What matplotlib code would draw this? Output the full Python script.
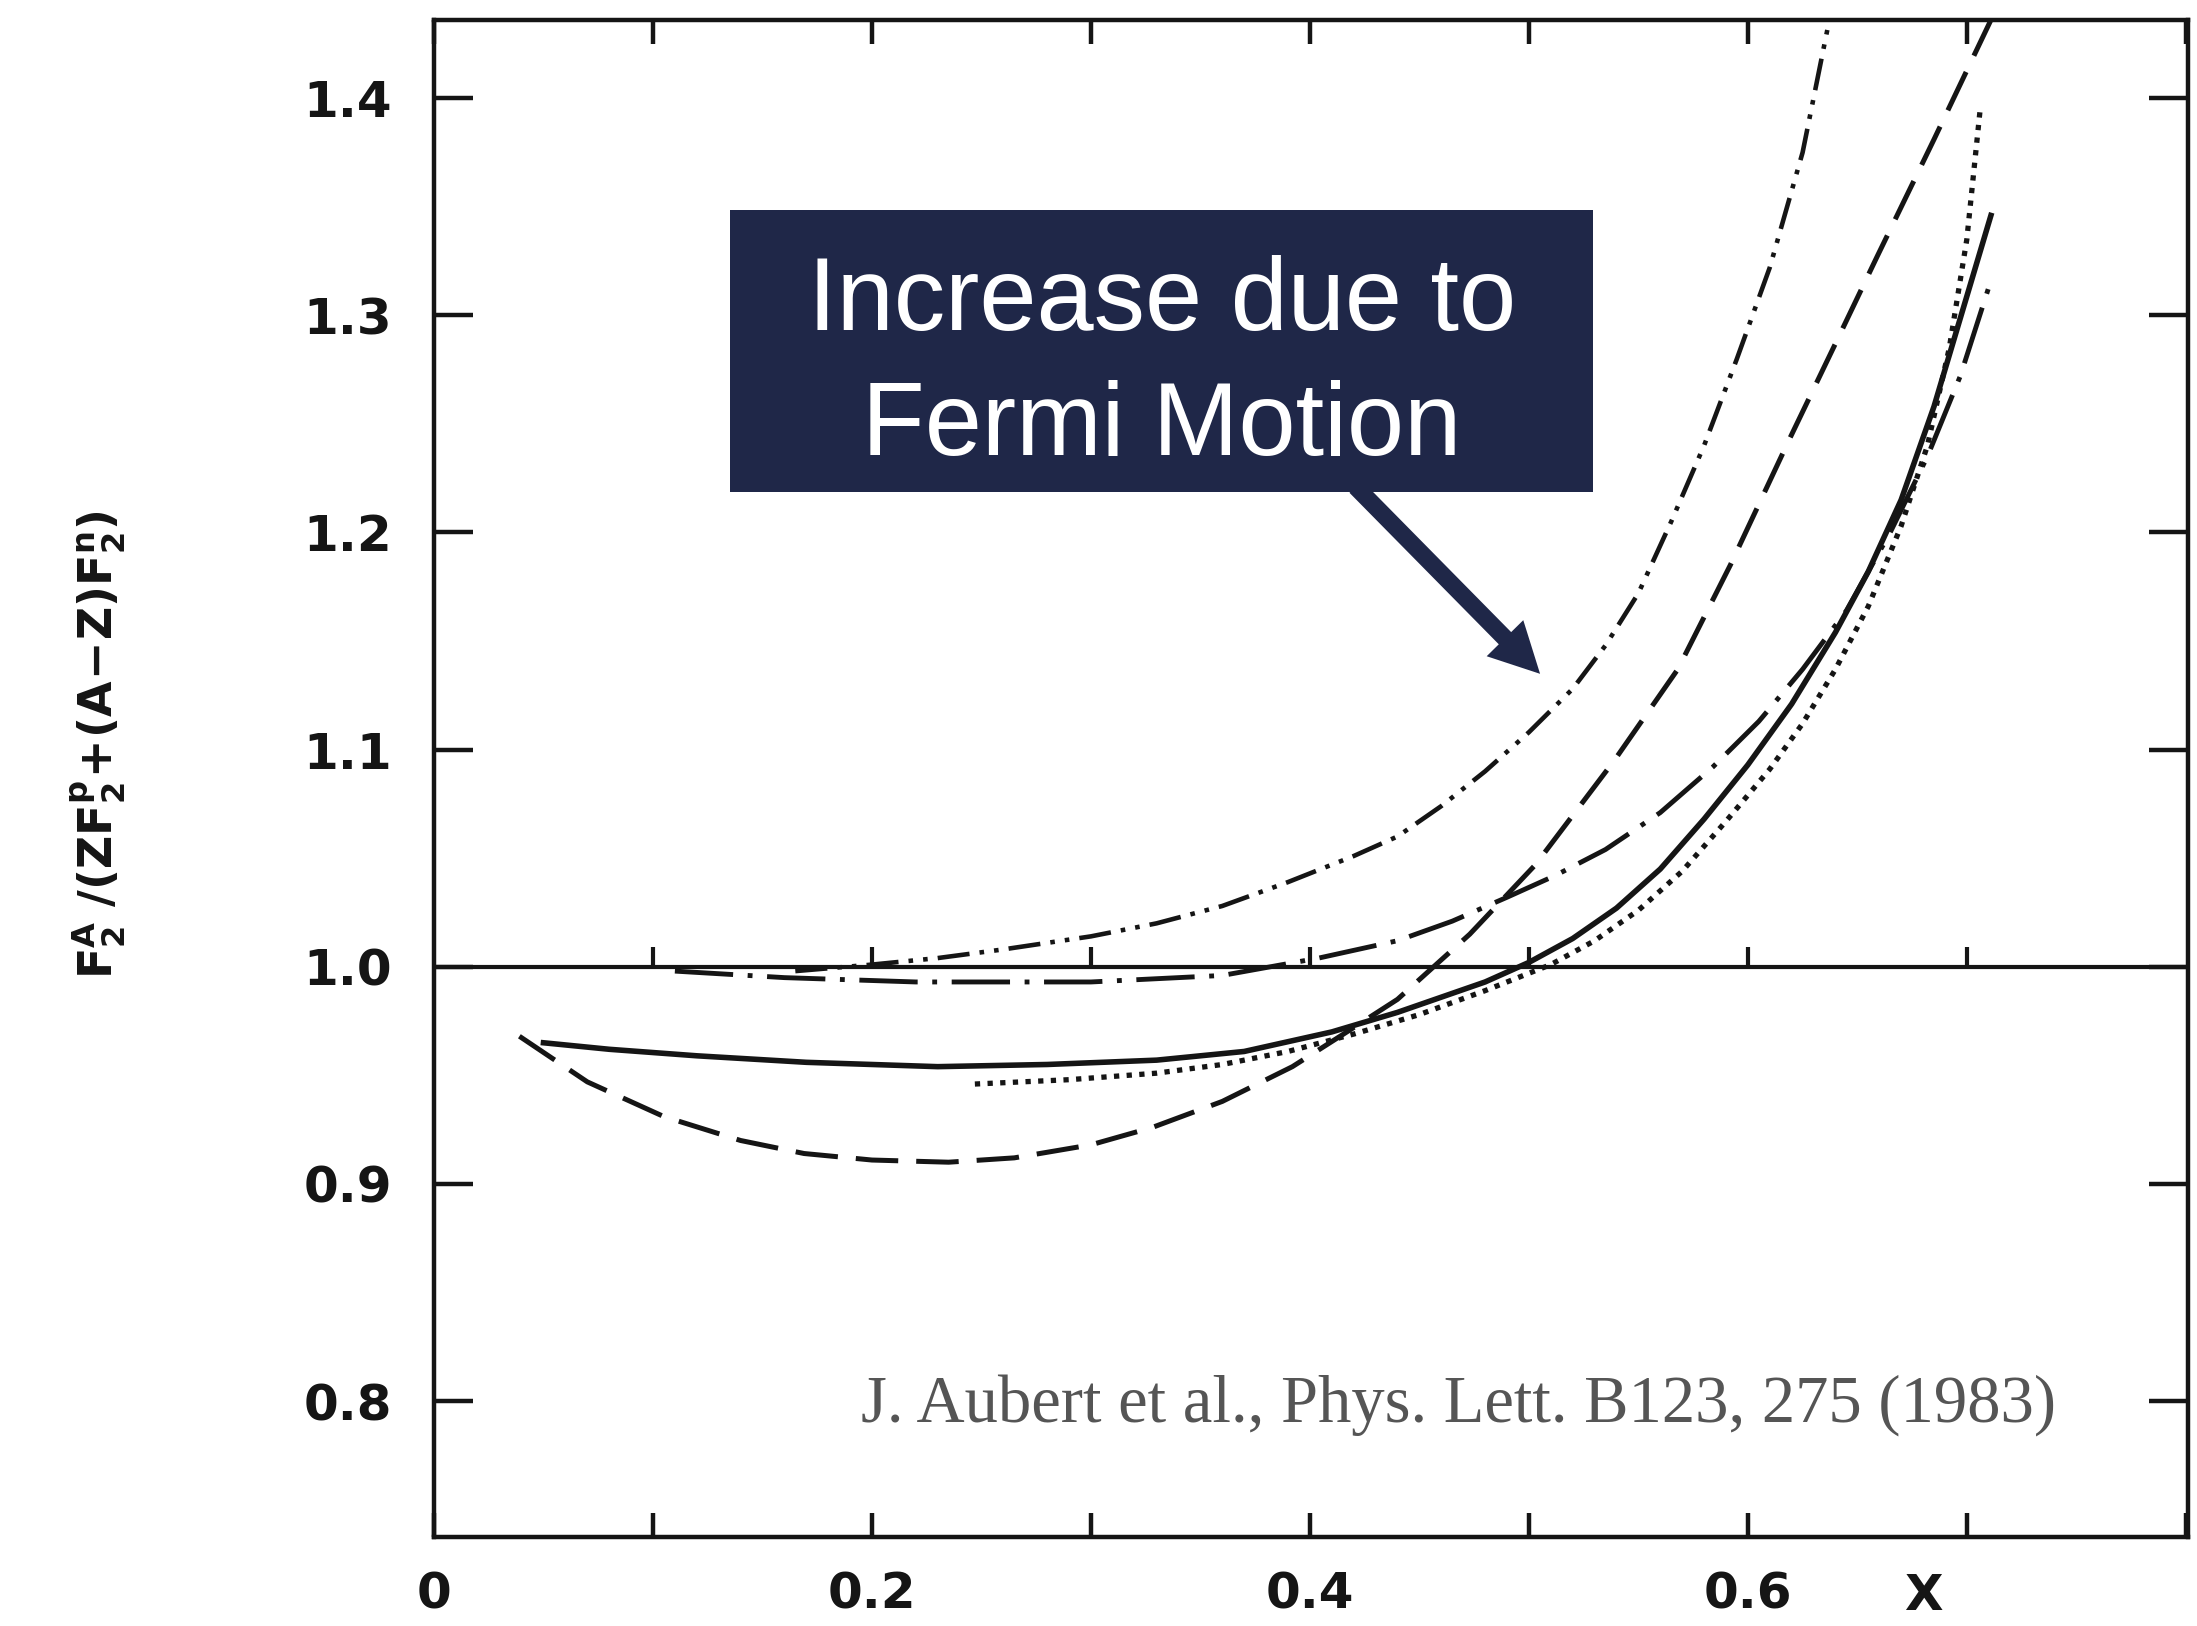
import matplotlib
matplotlib.use("Agg")
import matplotlib.pyplot as plt
from matplotlib.patches import Rectangle, FancyArrowPatch

# ---------------- data ----------------
x_fermi = [0.165, 0.20, 0.23, 0.26, 0.30, 0.33, 0.36, 0.39, 0.42, 0.44, 0.46, 0.48, 0.50,
           0.52, 0.535, 0.55, 0.565, 0.58, 0.595, 0.61, 0.625, 0.638]
y_fermi = [0.998, 1.001, 1.004, 1.008, 1.014, 1.020, 1.028, 1.039, 1.051, 1.060, 1.074,
           1.090, 1.108, 1.128, 1.148, 1.172, 1.205, 1.240, 1.280, 1.322, 1.375, 1.440]

x_dash = [0.039, 0.07, 0.105, 0.14, 0.169, 0.20, 0.235, 0.265, 0.30, 0.328, 0.36, 0.392,
          0.42, 0.44, 0.473, 0.503, 0.539, 0.568, 0.592, 0.619, 0.64, 0.659, 0.685, 0.711]
y_dash = [0.968, 0.947, 0.931, 0.920, 0.914, 0.911, 0.910, 0.912, 0.918, 0.926, 0.938, 0.954,
          0.972, 0.985, 1.015, 1.047, 1.095, 1.137, 1.185, 1.243, 1.287, 1.327, 1.381, 1.436]

x_solid = [0.05, 0.08, 0.12, 0.17, 0.23, 0.28, 0.33, 0.37, 0.41, 0.44, 0.46, 0.48, 0.50,
           0.52, 0.54, 0.56, 0.58, 0.60, 0.62, 0.64, 0.655, 0.67, 0.685, 0.698, 0.711]
y_solid = [0.965, 0.962, 0.959, 0.956, 0.954, 0.955, 0.957, 0.961, 0.970, 0.979, 0.986,
           0.993, 1.002, 1.013, 1.027, 1.045, 1.068, 1.093, 1.121, 1.154, 1.182, 1.215,
           1.258, 1.302, 1.346]

x_dot = [0.247, 0.29, 0.33, 0.36, 0.39, 0.42, 0.45, 0.48, 0.51, 0.53, 0.55, 0.57, 0.59,
         0.61, 0.625, 0.64, 0.655, 0.67, 0.682, 0.692, 0.700, 0.706]
y_dot = [0.946, 0.948, 0.951, 0.955, 0.961, 0.969, 0.978, 0.989, 1.001, 1.012, 1.026,
         1.044, 1.067, 1.091, 1.112, 1.137, 1.166, 1.203, 1.240, 1.285, 1.335, 1.394]

x_dashdot = [0.11, 0.16, 0.22, 0.30, 0.36, 0.404, 0.44, 0.465, 0.49, 0.512, 0.535, 0.56,
             0.584, 0.605, 0.625, 0.645, 0.665, 0.682, 0.697, 0.711]
y_dashdot = [0.998, 0.995, 0.993, 0.993, 0.996, 1.004, 1.012, 1.021, 1.032, 1.042, 1.054,
             1.071, 1.092, 1.113, 1.137, 1.164, 1.200, 1.235, 1.272, 1.316]

unity = 1.0
unity_ticks = [0.1, 0.2, 0.3, 0.4, 0.5, 0.6, 0.7]

x_ticks = [0.0, 0.1, 0.2, 0.3, 0.4, 0.5, 0.6, 0.7, 0.8]
x_ticklabels = ["0", "", "0.2", "", "0.4", "", "0.6", "", ""]
y_ticks = [0.8, 0.9, 1.0, 1.1, 1.2, 1.3, 1.4]
y_ticklabels = ["0.8", "0.9", "1.0", "1.1", "1.2", "1.3", "1.4"]
x_axis_name = "X"
x_axis_name_pos = 0.680

ylabel = r"$\mathbf{F_2^A\ /(ZF_2^p\!+\!(A\!-\!Z)F_2^n)}$"
box_lines = ["Increase due to", "Fermi Motion"]
citation = "J. Aubert et al., Phys. Lett. B123, 275 (1983)"

# ---------------- figure ----------------
W, H = 2197, 1626
fig = plt.figure(figsize=(W / 100, H / 100), dpi=100)
ax = fig.add_axes([434 / W, 1 - 1537 / H, 1754 / W, 1517 / H])
ax.set_xlim(0.0, 0.801)
ax.set_ylim(0.7374, 1.436)

ink = "#151515"
ax.axhline(unity, color=ink, lw=3.0, zorder=2)
ax.vlines(unity_ticks, unity, unity + 0.009, color=ink, lw=3.0, zorder=2)

ax.plot(x_fermi, y_fermi, color=ink, lw=3.3, ls=(0, (7, 2.2, 1, 2.2, 1, 2.2)))
ax.plot(x_dash, y_dash, color=ink, lw=3.6, ls=(0, (8.5, 3.6)))
ax.plot(x_solid, y_solid, color=ink, lw=4.0, ls="-")
ax.plot(x_dot, y_dot, color=ink, lw=3.8, ls=(0, (1, 1.4)))
ax.plot(x_dashdot, y_dashdot, color=ink, lw=3.5, ls=(0, (12, 3, 1, 3)))

for s in ax.spines.values():
    s.set_linewidth(3.2)
    s.set_color(ink)

ax.set_xticks(x_ticks)
ax.set_xticklabels(x_ticklabels)
ax.set_yticks(y_ticks)
ax.set_yticklabels(y_ticklabels)
ax.tick_params(axis="x", direction="in", length=17, width=3.2, top=True, bottom=True,
               pad=24, labelsize=36, colors=ink)
ax.tick_params(axis="y", direction="in", length=28, width=3.2, left=True, right=True,
               pad=30, labelsize=36, colors=ink)
for lab in ax.get_xticklabels() + ax.get_yticklabels():
    lab.set_fontweight("bold")

ax.annotate(x_axis_name, xy=(x_axis_name_pos, 0), xycoords=("data", "axes fraction"),
            xytext=(0, -25), textcoords="offset points", ha="center", va="top",
            fontsize=36, fontweight="bold", color=ink)

fig.text(98 / W, 1 - 745 / H, ylabel, rotation=90, ha="center", va="center",
         fontsize=33, color=ink)

# annotation box
navy = "#1f2748"
ax.add_patch(Rectangle((0.169, 0.689), 0.492, 0.186, transform=ax.transAxes,
                       facecolor=navy, edgecolor="none", zorder=5))
ax.text(0.415, 0.7957, box_lines[0], transform=ax.transAxes, ha="center", va="baseline",
        fontsize=74, color="white", family="Liberation Sans", zorder=6)
ax.text(0.415, 0.7133, box_lines[1], transform=ax.transAxes, ha="center", va="baseline",
        fontsize=74, color="white", family="Liberation Sans", zorder=6)
arrow = FancyArrowPatch((0.42, 1.222), (0.506, 1.134), transform=ax.transData,
                        arrowstyle="simple,head_length=3.6,head_width=3.7,tail_width=1.25",
                        mutation_scale=10, color=navy, lw=0, zorder=5)
ax.add_patch(arrow)

ax.text(0.925, 0.087, citation, transform=ax.transAxes, ha="right", va="center",
        fontsize=48, color="#555555", family="Liberation Serif")

fig.savefig("out.png", dpi=100, facecolor="white")
